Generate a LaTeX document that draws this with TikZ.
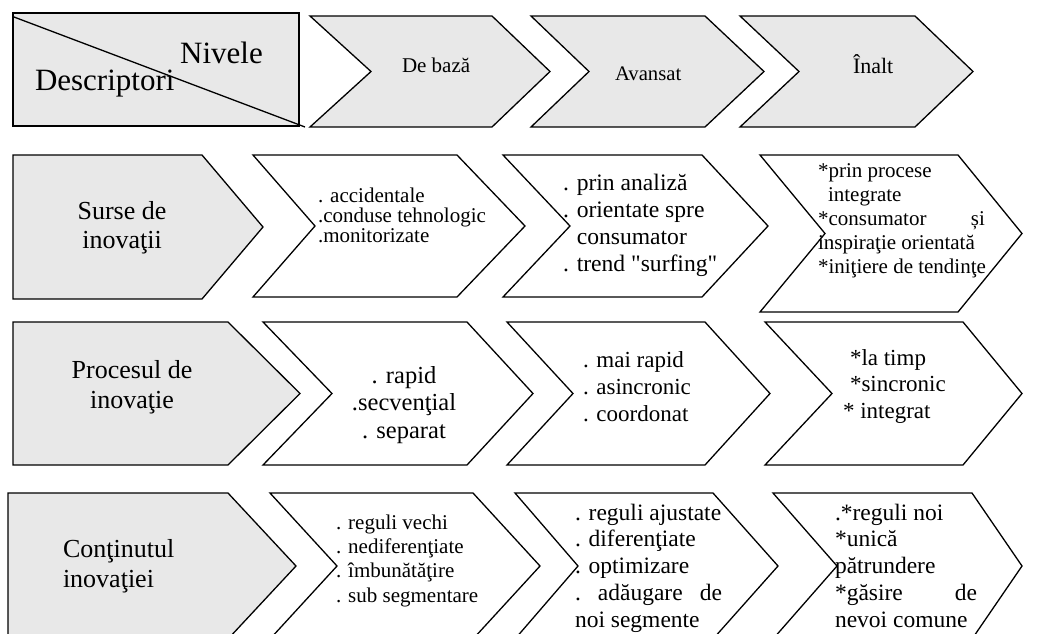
\documentclass[tikz,border=0pt]{standalone}
\usepackage{fontspec}
\setmainfont{Liberation Serif}[Ligatures=TeXOff]
\lineskiplimit=-100pt
\lineskip=0pt
\definecolor{panelgray}{HTML}{E8E8E8}

% chevron: left x, notch x, top-right x, tip x, top y, bottom y, fill
\newcommand{\chevshape}[7]{%
  \filldraw[shapeline, fill=#7] (#1,#5) -- (#3,#5) -- (#4,{(#5+#6)/2})
    -- (#3,#6) -- (#1,#6) -- (#2,{(#5+#6)/2}) -- cycle;}
% pentagon tab: left x, top-right x, tip x, top y, bottom y, fill
\newcommand{\tabshape}[6]{%
  \filldraw[shapeline, fill=#6] (#1,#4) -- (#2,#4) -- (#3,{(#4+#5)/2})
    -- (#2,#5) -- (#1,#5) -- cycle;}
\newcommand{\fs}[2]{\fontsize{#1}{#2}\selectfont}

\begin{document}
\begin{tikzpicture}[x=1pt, y=-1pt,
  shapeline/.style={draw=black, line width=1.3pt, line join=miter},
  % multi-line cells are placed by the baseline of their last line
  cell/.style={inner sep=0pt, outer sep=0pt, align=left, anchor=base west},
  ccell/.style={inner sep=0pt, outer sep=0pt, align=center, anchor=base}]
\useasboundingbox (0,0) rectangle (1038,633);
\clip (0,0) rectangle (1038,633);

% header row
\filldraw[shapeline, fill=panelgray] (13,13) rectangle (299,126);
\draw[line width=1.3pt] (14,17) -- (305,127);
\chevshape{310}{371}{492}{550}{16}{127}{panelgray}
\chevshape{531}{589}{705}{764}{16}{127}{panelgray}
\chevshape{740}{799}{915}{973}{16}{127}{panelgray}

\node[ccell, font=\fs{31}{31}] (nivele) at (221.5,63) {Nivele};
\node[cell, font=\fs{31}{31}] (descriptori) at (35,90) {Descriptori};
\node[cell, font=\fs{21}{21}] (debaza) at (402,72) {De bază};
\node[cell, font=\fs{20.7}{21}] (avansat) at (615,80) {Avansat};
\node[cell, font=\fs{22}{22}] (inalt) at (853,73) {Înalt};

% row 1: sources
\tabshape{13}{202}{263}{155}{299}{panelgray}
\chevshape{253}{315}{457}{525}{155}{297}{white}
\chevshape{503}{570}{702}{768}{155}{297}{white}
\chevshape{760}{825}{958}{1022}{155}{312}{white}

\node[ccell, font=\fs{26}{29}] (surse) at (122,248) {Surse de\\inovaţii};
\node[cell, font=\fs{21}{20}] (surse1) at (318,242)
  {. accidentale\\.conduse tehnologic\\.monitorizate};
\node[cell, font=\fs{23.6}{26.7}] (surse2) at (563,271)
  {. prin analiză\\. orientate spre\\\phantom{. }consumator\\. trend "surfing"};
\node[cell, font=\fs{21}{24}] (surse3) at (818,273)
  {*prin procese\\\hspace*{10pt}integrate\\\hbox to 167pt{*consumator\hfill și}\\inspiraţie orientată\\*iniţiere de tendinţe};

% row 2: process
\tabshape{13}{228}{300}{322}{465}{panelgray}
\chevshape{263}{332}{467}{533}{322}{465}{white}
\chevshape{507}{573}{705}{770}{322}{465}{white}
\chevshape{765}{832}{963}{1022}{322}{465}{white}

\node[ccell, font=\fs{26}{30}] (proces) at (132,408) {Procesul de\\inovaţie};
\node[ccell, font=\fs{24.5}{27.5}] (proces1) at (404,438)
  {. rapid\\.secvenţial\\. separat};
\node[cell, font=\fs{23}{27}] (proces2) at (583,421)
  {. mai rapid\\. asincronic\\. coordonat};
\node[cell, font=\fs{23}{26.5}] (proces3) at (843,418)
  {\hspace*{7pt}*la timp\\\hspace*{7pt}*sincronic\\* integrat};

% row 3: content
\tabshape{8}{228}{296}{493}{639}{panelgray}
\chevshape{270}{337}{473}{540}{493}{639}{white}
\chevshape{515}{578}{713}{778}{493}{639}{white}
\chevshape{773}{837}{972}{1022}{493}{639}{white}

\node[cell, font=\fs{26}{30}] (continut) at (63,587) {Conţinutul\\inovaţiei};
\node[cell, font=\fs{21}{24.3}] (continut1) at (336,602)
  {. reguli vechi\\. nediferenţiate\\. îmbunătăţire\\. sub segmentare};
\node[cell, font=\fs{23.5}{26.75}] (continut2) at (575,627)
  {. reguli ajustate\\. diferenţiate\\. optimizare\\\hbox to 147pt{.\hfill adăugare\hfill de}\\noi segmente};
\node[cell, font=\fs{23.5}{26.75}] (continut3) at (835,627)
  {.*reguli noi\\*unică\\pătrundere\\\hbox to 142pt{*găsire\hfill de}\\nevoi comune};
\end{tikzpicture}
\end{document}
